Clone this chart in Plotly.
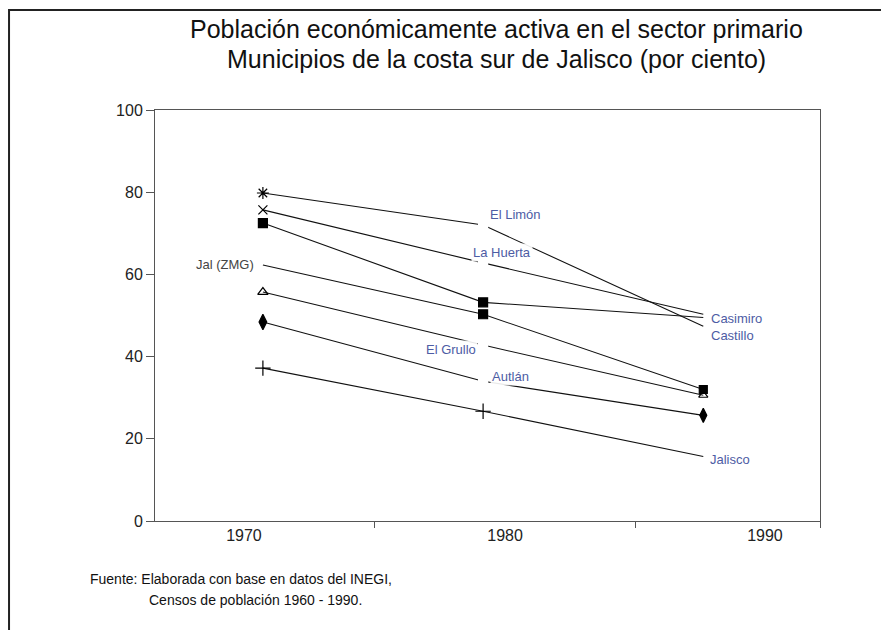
import plotly.graph_objects as go

# ---- data ----
years = [1970, 1980, 1990]
el_limon = [79.8, 72.0, 47.4]
la_huerta = [75.7, 62.8, 50.3]
casimiro_castillo = [72.5, 53.2, 49.5]
jal_zmg = [62.3, 50.3, 32.0]
el_grullo = [55.7, 42.8, 30.6]
autlan = [48.4, 34.0, 25.7]
jalisco = [37.2, 26.7, 15.7]
y_ticks = [0, 20, 40, 60, 80, 100]
year_labels = ["1970", "1980", "1990"]

title_lines = ["Población económicamente activa en el sector primario",
               "Municipios de la costa sur de Jalisco (por ciento)"]
source_lines = ["Fuente: Elaborada con base en datos del INEGI,",
                "Censos de población 1960 - 1990."]

# label anchor positions on the year axis (as printed in the scan)
year_label_pos = [1969.14, 1981.0, 1992.8]
boundary_ticks = [1975.07, 1986.9, 1995.3]

FONT = "Liberation Sans, Arial, sans-serif"
LINE = "#111111"
MK = "#000000"
LABEL = "#4d5ca4"
W = "white"

fig = go.Figure()

def add(vals, symbols, sizes, colors, name):
    fig.add_trace(go.Scatter(
        x=years, y=vals, mode="lines+markers", name=name,
        line=dict(color=LINE, width=1.1),
        marker=dict(symbol=symbols, size=sizes, color=colors, opacity=1,
                    line=dict(color=colors, width=1.2)),
        showlegend=False, cliponaxis=False))

add(el_limon, ["asterisk-open", "square", "circle"], [10, 9, 0], [MK, W, MK], "El Limón")
add(la_huerta, ["x-thin-open", "square", "circle"], [9, 9, 0], [MK, W, MK], "La Huerta")
add(jal_zmg, ["circle", "square", "square"], [0, 9, 8], [MK, MK, MK], "Jal (ZMG)")
add(casimiro_castillo, ["square", "square", "circle"], [9, 9, 0], [MK, MK, MK], "Casimiro Castillo")
add(el_grullo, ["triangle-up-open", "square", "triangle-up-open"], [9, 9, 8], [MK, W, MK], "El Grullo")
add(autlan, ["diamond-tall", "square", "diamond-tall"], [11, 9, 10], [MK, W, MK], "Autlán")
add(jalisco, ["cross-thin-open", "cross-thin-open", "circle"], [11, 11, 0], [MK, MK, MK], "Jalisco")

lab_font = dict(family=FONT, size=13, color=LABEL)
labels = [
    (1981.46, 74.5, "El Limón", "center"),
    (1980.87, 65.4, "La Huerta", "center"),
    (1990.25, 47.2, "Casimiro<br>Castillo", "left"),
    (1990.2, 14.9, "Jalisco", "left"),
    (1979.75, 41.8, "El Grullo", "right"),
    (1980.3, 35.2, "Autlán", "left"),
]
for x, y, t, anc in labels:
    fig.add_annotation(x=x, y=y, text=t, showarrow=False, xanchor=anc,
                       yanchor="middle", align="left", font=lab_font,
                       bgcolor="rgba(255,255,255,0.9)", borderpad=1)
fig.add_annotation(x=1969.7, y=62.5, text="Jal (ZMG)", showarrow=False,
                   xanchor="right", yanchor="middle",
                   font=dict(family=FONT, size=13, color="#444"))

# title (two lines)
for yy, t in zip([1.1959, 1.1229], title_lines):
    fig.add_annotation(xref="paper", yref="paper", x=0.514, y=yy, text=t,
                       showarrow=False, xanchor="center", yanchor="middle",
                       borderpad=0,
                       font=dict(family=FONT, size=25, color="#111"))
# source
fig.add_annotation(xref="paper", yref="paper", x=-0.1008, y=-0.1411,
                   text=source_lines[0], showarrow=False, xanchor="left", yanchor="middle",
                   font=dict(family=FONT, size=14, color="#111"))
fig.add_annotation(xref="paper", yref="paper", x=-0.012, y=-0.1922,
                   text=source_lines[1], showarrow=False, xanchor="left", yanchor="middle",
                   font=dict(family=FONT, size=14, color="#111"))

# outer frame
fig.add_shape(type="rect", xref="paper", yref="paper",
              x0=-0.2195, x1=1.0977, y0=-0.30, y1=1.2433,
              line=dict(color="#222", width=2), layer="above")

fig.update_layout(
    width=881, height=622,
    margin=dict(l=147, r=69, t=102, b=109),
    paper_bgcolor="white", plot_bgcolor="white",
    font=dict(family=FONT, color="#222"),
    xaxis=dict(range=[1965.1, 1995.3], tickmode="array", tickvals=year_label_pos,
               ticktext=year_labels, ticks="", showgrid=False, zeroline=False,
               showline=True, linecolor="#555", linewidth=1, mirror=True,
               tickfont=dict(size=16, color="#222"),
               minor=dict(tickmode="array", tickvals=boundary_ticks, ticks="outside",
                          ticklen=6, tickcolor="#555", showgrid=False)),
    yaxis=dict(range=[0, 100], tickvals=y_ticks, ticks="outside", ticklen=8,
               tickcolor="#555", showgrid=False, zeroline=False, showline=True,
               linecolor="#555", linewidth=1, mirror=True,
               tickfont=dict(size=16, color="#222")),
)

fig.write_html("out.html")
